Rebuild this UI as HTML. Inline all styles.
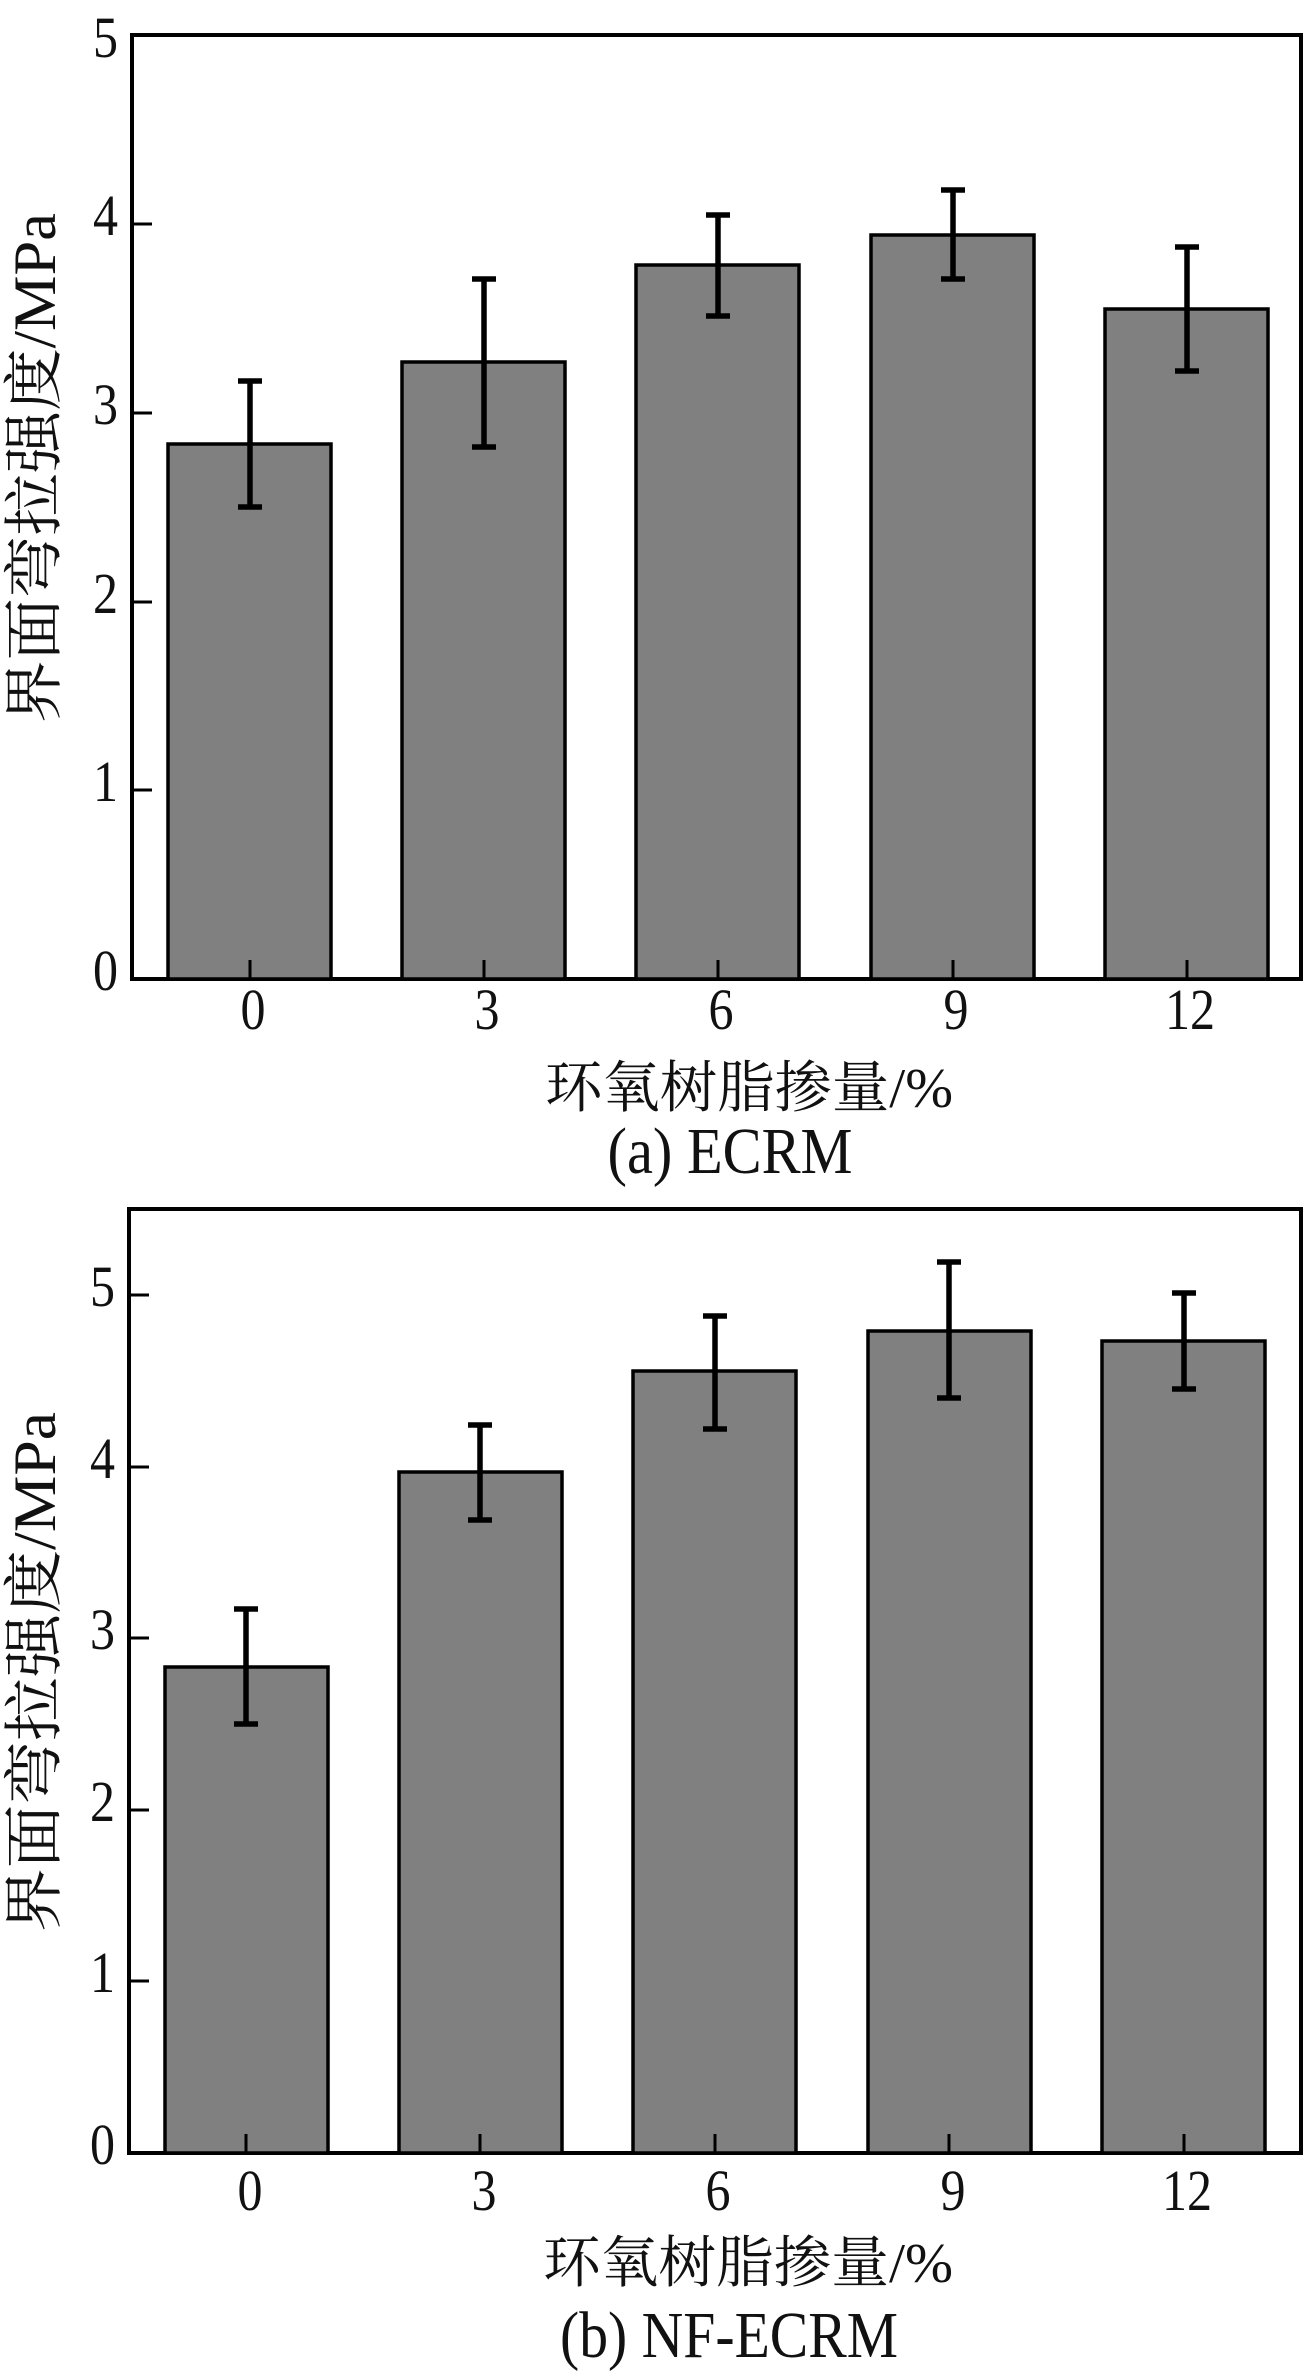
<!DOCTYPE html>
<html><head><meta charset="utf-8"><style>
html,body{margin:0;padding:0;background:#fff;}
svg{display:block;}
text{font-family:"Liberation Serif","Noto Serif CJK SC","Noto Sans CJK SC",serif;fill:#111;}
</style></head><body>
<svg width="1307" height="2373" viewBox="0 0 1307 2373" xmlns="http://www.w3.org/2000/svg">
<!-- Panel A -->
<g>
<rect x="132" y="35" width="1169" height="944" fill="none" stroke="#000" stroke-width="4"/>
<g fill="#808080" stroke="#000" stroke-width="3.5">
<rect x="168" y="444" width="163" height="535"/>
<rect x="402" y="362" width="163" height="617"/>
<rect x="636" y="265" width="163" height="714"/>
<rect x="871" y="235" width="163" height="744"/>
<rect x="1105" y="309" width="163" height="670"/>
</g>
<g stroke="#000" stroke-width="3">
<line x1="250" y1="979" x2="250" y2="960"/><line x1="484" y1="979" x2="484" y2="960"/><line x1="718" y1="979" x2="718" y2="960"/><line x1="953" y1="979" x2="953" y2="960"/><line x1="1187" y1="979" x2="1187" y2="960"/>
<line x1="132" y1="790" x2="152" y2="790"/><line x1="132" y1="602" x2="152" y2="602"/><line x1="132" y1="413" x2="152" y2="413"/><line x1="132" y1="224" x2="152" y2="224"/>
</g>
<g stroke="#000" stroke-width="5.5">
<line x1="250" y1="507" x2="250" y2="381"/><line x1="238" y1="507" x2="262" y2="507"/><line x1="238" y1="381" x2="262" y2="381"/>
<line x1="484" y1="447" x2="484" y2="279"/><line x1="472" y1="447" x2="496" y2="447"/><line x1="472" y1="279" x2="496" y2="279"/>
<line x1="718" y1="316" x2="718" y2="215"/><line x1="706" y1="316" x2="730" y2="316"/><line x1="706" y1="215" x2="730" y2="215"/>
<line x1="953" y1="279" x2="953" y2="190"/><line x1="941" y1="279" x2="965" y2="279"/><line x1="941" y1="190" x2="965" y2="190"/>
<line x1="1187" y1="371" x2="1187" y2="247"/><line x1="1175" y1="371" x2="1199" y2="371"/><line x1="1175" y1="247" x2="1199" y2="247"/>
</g>
<g font-size="58" text-anchor="end">
<text x="118" y="990" textLength="25" lengthAdjust="spacingAndGlyphs">0</text>
<text x="118" y="801" textLength="25" lengthAdjust="spacingAndGlyphs">1</text>
<text x="118" y="613" textLength="25" lengthAdjust="spacingAndGlyphs">2</text>
<text x="118" y="424" textLength="25" lengthAdjust="spacingAndGlyphs">3</text>
<text x="118" y="235" textLength="25" lengthAdjust="spacingAndGlyphs">4</text>
<text x="118" y="57" textLength="25" lengthAdjust="spacingAndGlyphs">5</text>
</g>
<g font-size="58" text-anchor="middle">
<text x="253" y="1029" textLength="25" lengthAdjust="spacingAndGlyphs">0</text>
<text x="487" y="1029" textLength="25" lengthAdjust="spacingAndGlyphs">3</text>
<text x="721" y="1029" textLength="25" lengthAdjust="spacingAndGlyphs">6</text>
<text x="956" y="1029" textLength="25" lengthAdjust="spacingAndGlyphs">9</text>
<text x="1190" y="1029" textLength="50" lengthAdjust="spacingAndGlyphs">12</text>
</g>
<text x="749" y="1107" font-size="56" text-anchor="middle" textLength="408" lengthAdjust="spacingAndGlyphs">环氧树脂掺量/%</text>
<text x="730" y="1173" font-size="66" text-anchor="middle" textLength="245" lengthAdjust="spacingAndGlyphs">(a) ECRM</text>
<text transform="translate(55,468) rotate(-90)" font-size="60" text-anchor="middle" textLength="510" lengthAdjust="spacingAndGlyphs">界面弯拉强度/MPa</text>
</g>
<!-- Panel B -->
<g>
<rect x="129" y="1209" width="1172" height="944" fill="none" stroke="#000" stroke-width="4"/>
<g fill="#808080" stroke="#000" stroke-width="3.5">
<rect x="165" y="1667" width="163" height="486"/>
<rect x="399" y="1472" width="163" height="681"/>
<rect x="633" y="1371" width="163" height="782"/>
<rect x="868" y="1331" width="163" height="822"/>
<rect x="1102" y="1341" width="163" height="812"/>
</g>
<g stroke="#000" stroke-width="3">
<line x1="246" y1="2153" x2="246" y2="2134"/><line x1="480" y1="2153" x2="480" y2="2134"/><line x1="715" y1="2153" x2="715" y2="2134"/><line x1="949" y1="2153" x2="949" y2="2134"/><line x1="1184" y1="2153" x2="1184" y2="2134"/>
<line x1="129" y1="1981" x2="149" y2="1981"/><line x1="129" y1="1810" x2="149" y2="1810"/><line x1="129" y1="1638" x2="149" y2="1638"/><line x1="129" y1="1467" x2="149" y2="1467"/><line x1="129" y1="1295" x2="149" y2="1295"/>
</g>
<g stroke="#000" stroke-width="5.5">
<line x1="246" y1="1724" x2="246" y2="1609"/><line x1="234" y1="1724" x2="258" y2="1724"/><line x1="234" y1="1609" x2="258" y2="1609"/>
<line x1="480" y1="1520" x2="480" y2="1425"/><line x1="468" y1="1520" x2="492" y2="1520"/><line x1="468" y1="1425" x2="492" y2="1425"/>
<line x1="715" y1="1429" x2="715" y2="1316"/><line x1="703" y1="1429" x2="727" y2="1429"/><line x1="703" y1="1316" x2="727" y2="1316"/>
<line x1="949" y1="1398" x2="949" y2="1262"/><line x1="937" y1="1398" x2="961" y2="1398"/><line x1="937" y1="1262" x2="961" y2="1262"/>
<line x1="1184" y1="1389" x2="1184" y2="1293"/><line x1="1172" y1="1389" x2="1196" y2="1389"/><line x1="1172" y1="1293" x2="1196" y2="1293"/>
</g>
<g font-size="58" text-anchor="end">
<text x="115" y="2164" textLength="25" lengthAdjust="spacingAndGlyphs">0</text>
<text x="115" y="1992" textLength="25" lengthAdjust="spacingAndGlyphs">1</text>
<text x="115" y="1821" textLength="25" lengthAdjust="spacingAndGlyphs">2</text>
<text x="115" y="1649" textLength="25" lengthAdjust="spacingAndGlyphs">3</text>
<text x="115" y="1478" textLength="25" lengthAdjust="spacingAndGlyphs">4</text>
<text x="115" y="1306" textLength="25" lengthAdjust="spacingAndGlyphs">5</text>
</g>
<g font-size="58" text-anchor="middle">
<text x="250" y="2210" textLength="25" lengthAdjust="spacingAndGlyphs">0</text>
<text x="484" y="2210" textLength="25" lengthAdjust="spacingAndGlyphs">3</text>
<text x="718" y="2210" textLength="25" lengthAdjust="spacingAndGlyphs">6</text>
<text x="953" y="2210" textLength="25" lengthAdjust="spacingAndGlyphs">9</text>
<text x="1187" y="2210" textLength="50" lengthAdjust="spacingAndGlyphs">12</text>
</g>
<text x="748" y="2282" font-size="56" text-anchor="middle" textLength="410" lengthAdjust="spacingAndGlyphs">环氧树脂掺量/%</text>
<text x="729" y="2357" font-size="66" text-anchor="middle" textLength="338" lengthAdjust="spacingAndGlyphs">(b) NF-ECRM</text>
<text transform="translate(55,1672) rotate(-90)" font-size="60" text-anchor="middle" textLength="520" lengthAdjust="spacingAndGlyphs">界面弯拉强度/MPa</text>
</g>
</svg>
</body></html>
